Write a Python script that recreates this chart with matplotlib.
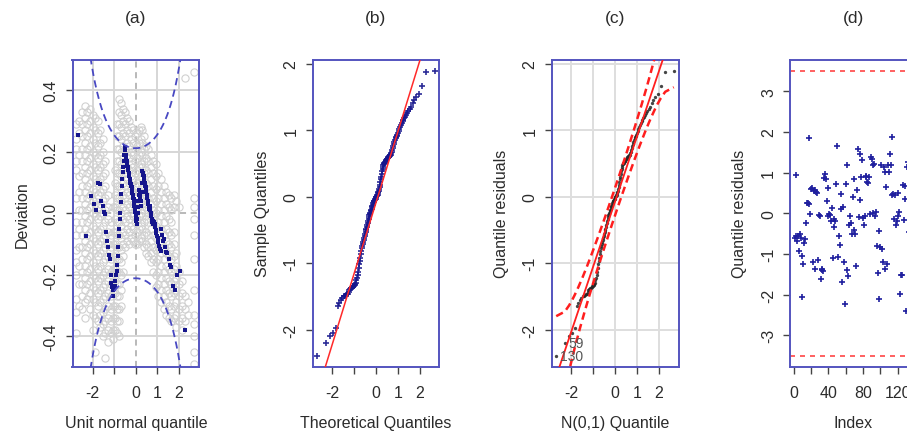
import math
from statistics import NormalDist

import matplotlib
matplotlib.use("Agg")
import matplotlib.pyplot as plt
import numpy as np

plt.rcParams["font.family"] = ["Liberation Sans", "DejaVu Sans"]
plt.rcParams["axes.unicode_minus"] = False

# (a) worm plot: deviation of each ordered residual from its normal quantile
worm_dev = [
    0.256, -0.074, 0.057, 0.03, 0.012, 0.10, 0.095, 0.04, 0.025, 0.005,
    -0.003, -0.06, -0.09, -0.11, -0.135, -0.15, -0.20, -0.226, -0.24, -0.25,
    -0.27, -0.245, -0.235, -0.22, -0.20, -0.188, -0.167, -0.14, -0.109, -0.074,
    -0.05, -0.02, 0.0, 0.036, 0.062, 0.09, 0.11, 0.133, 0.15, 0.17,
    0.19, 0.215, 0.205, 0.19, 0.18, 0.17, 0.165, 0.155, 0.15, 0.14,
    0.13, 0.125, 0.12, 0.11, 0.10, 0.095, 0.09, 0.085, 0.075, 0.065,
    0.06, 0.05, 0.045, 0.035, 0.025, 0.015, 0.005, -0.005, -0.015, -0.025,
    -0.036, -0.02, 0.0, 0.02, 0.04, 0.06, 0.075, 0.06, 0.065, 0.05,
    0.04, 0.024, 0.07, 0.10, 0.138, 0.13, 0.125, 0.12, 0.11, 0.10,
    0.09, 0.085, 0.075, 0.068, 0.06, 0.05, 0.04, 0.03, 0.024, 0.015,
    0.024, 0.01, 0.0, -0.01, -0.02, -0.03, -0.036, -0.025, -0.03, -0.036,
    -0.045, -0.055, -0.063, -0.075, -0.08, -0.095, -0.105, -0.115, -0.123, -0.052,
    -0.07, -0.09, -0.085, -0.11, -0.125, -0.13, -0.15, -0.167, -0.175, -0.237,
    -0.248, -0.20, -0.188, -0.379, -0.62,
]

# (a) grey background worms, one list of deviations per x column
grey_cols = [
    -2.75, -2.62, -2.48, -2.36, -2.24, -2.12, -2.0, -1.88, -1.76, -1.64,
    -1.52, -1.40, -1.28, -1.16, -1.04, -0.94, -0.85, -0.76, -0.67, -0.58,
    -0.49, -0.40, -0.31, -0.22, -0.13, -0.04, 0.05, 0.14, 0.23, 0.32,
    0.41, 0.50, 0.60, 0.70, 0.82, 0.94, 1.06, 1.18, 1.30, 1.42,
    1.54, 1.66, 1.78, 1.90, 2.02, 2.14, 2.28, 2.42, 2.70,
]
grey_rows = [
    [0.29, 0.24, 0.21, 0.17, 0.14, 0.05, -0.03, -0.07, -0.12, -0.16, -0.2, -0.28, -0.32, -0.39],
    [0.30, 0.26, 0.19, 0.12, 0.07, 0.01, -0.05, -0.11, -0.17, -0.23, -0.3],
    [0.33, 0.29, 0.25, 0.21, 0.17, 0.13, 0.09, 0.05, 0.01, -0.03, -0.07, -0.11, -0.15, -0.19, -0.23, -0.27, -0.31],
    [0.35, 0.31, 0.27, 0.23, 0.19, 0.15, 0.11, 0.07, 0.03, -0.01, -0.05, -0.09, -0.13, -0.17, -0.21, -0.25, -0.29, -0.34],
    [0.33, 0.29, 0.25, 0.21, 0.17, 0.13, 0.09, 0.05, 0.01, -0.03, -0.07, -0.11, -0.15, -0.19, -0.23, -0.28],
    [0.34, 0.30, 0.26, 0.22, 0.18, 0.14, 0.10, 0.06, 0.02, -0.02, -0.06, -0.10, -0.14, -0.18, -0.22, -0.26, -0.31],
    [0.32, 0.28, 0.24, 0.20, 0.16, 0.12, 0.08, 0.04, 0.0, -0.04, -0.08, -0.12, -0.16, -0.20, -0.24, -0.28, -0.33, -0.38],
    [0.31, 0.27, 0.23, 0.19, 0.15, 0.11, 0.07, 0.03, -0.01, -0.05, -0.09, -0.13, -0.17, -0.21, -0.25, -0.29, -0.34, -0.45],
    [0.30, 0.26, 0.22, 0.18, 0.14, 0.10, 0.06, 0.02, -0.02, -0.06, -0.10, -0.14, -0.18, -0.22, -0.26, -0.30, -0.35],
    [0.27, 0.23, 0.19, 0.15, 0.11, 0.07, 0.03, -0.01, -0.05, -0.09, -0.13, -0.17, -0.21, -0.25, -0.29, -0.33, -0.37],
    [0.24, 0.20, 0.16, 0.12, 0.08, 0.04, 0.0, -0.04, -0.08, -0.12, -0.16, -0.20, -0.24, -0.28, -0.32, -0.36, -0.40],
    [0.17, 0.13, 0.09, 0.05, 0.01, -0.03, -0.07, -0.11, -0.15, -0.19, -0.23, -0.27, -0.31, -0.35, -0.39, -0.47],
    [0.06, 0.02, -0.02, -0.06, -0.10, -0.14, -0.18, -0.22, -0.26, -0.30, -0.34, -0.38, -0.42],
    [-0.03, -0.07, -0.11, -0.15, -0.19, -0.23, -0.27, -0.31, -0.35, -0.39],
    [0.02, -0.06, -0.10, -0.14, -0.18, -0.22, -0.26, -0.30, -0.34, -0.38, -0.41],
    [0.14, 0.10, 0.06, 0.02, -0.02, -0.06, -0.10, -0.14, -0.18, -0.22, -0.26, -0.30, -0.34, -0.38],
    [0.29, 0.25, 0.21, 0.17, 0.13, 0.09, 0.05, 0.01, -0.03, -0.07, -0.11, -0.15, -0.19, -0.23, -0.27, -0.31, -0.35, -0.39],
    [0.37, 0.33, 0.29, 0.25, 0.21, 0.17, 0.13, 0.09, 0.05, 0.01, -0.03, -0.07, -0.11, -0.15, -0.19, -0.23, -0.27, -0.31, -0.35, -0.40],
    [0.36, 0.32, 0.28, 0.24, 0.20, 0.16, 0.12, 0.08, 0.04, 0.0, -0.04, -0.08, -0.12, -0.16, -0.20, -0.25, -0.30],
    [0.34, 0.30, 0.26, 0.22, 0.18, 0.14, 0.10, 0.06, 0.02, -0.02, -0.06, -0.10, -0.14, -0.19],
    [0.33, 0.29, 0.25, 0.21, 0.17, 0.13, 0.09, 0.05, 0.01, -0.03, -0.07, -0.11],
    [0.31, 0.27, 0.23, 0.19, 0.15, 0.11, 0.07, 0.03, -0.01, -0.05, -0.09],
    [0.30, 0.26, 0.22, 0.18, 0.14, 0.10, 0.06, 0.02, -0.02, -0.06, -0.10],
    [0.28, 0.24, 0.20, 0.16, 0.12, 0.08, 0.04, 0.0, -0.04, -0.08],
    [0.27, 0.23, 0.19, 0.15, 0.11, 0.07, 0.03, -0.01, -0.05, -0.09],
    [0.25, 0.21, 0.17, 0.13, 0.09, 0.05, 0.01, -0.03, -0.07, -0.10],
    [0.26, 0.22, 0.18, 0.14, 0.10, 0.06, 0.02, -0.02, -0.06, -0.10],
    [0.27, 0.23, 0.19, 0.15, 0.11, 0.07, 0.03, -0.01, -0.05, -0.09],
    [0.28, 0.24, 0.20, 0.16, 0.12, 0.08, 0.04, 0.0, -0.04, -0.08],
    [0.27, 0.23, 0.19, 0.15, 0.11, 0.07, 0.03, -0.01, -0.05, -0.09],
    [0.25, 0.21, 0.17, 0.13, 0.09, 0.05, 0.01, -0.03, -0.07, -0.11],
    [0.22, 0.18, 0.14, 0.10, 0.06, 0.02, -0.02, -0.06, -0.10, -0.13],
    [0.21, 0.17, 0.13, 0.09, 0.05, 0.01, -0.03, -0.07, -0.11, -0.14],
    [0.19, 0.15, 0.11, 0.07, 0.03, -0.01, -0.05, -0.09, -0.13, -0.16],
    [0.17, 0.13, 0.09, 0.05, 0.01, -0.03, -0.07, -0.11, -0.15, -0.19],
    [0.16, 0.12, 0.08, 0.04, 0.0, -0.04, -0.08, -0.12, -0.16, -0.20, -0.24],
    [0.13, 0.09, 0.05, 0.01, -0.03, -0.07, -0.11, -0.15, -0.19, -0.23, -0.27],
    [0.11, 0.07, 0.03, -0.01, -0.05, -0.09, -0.13, -0.17, -0.21, -0.25, -0.29],
    [0.09, 0.05, 0.01, -0.03, -0.07, -0.11, -0.15, -0.19, -0.23, -0.27, -0.31],
    [0.07, 0.03, -0.01, -0.05, -0.09, -0.13, -0.17, -0.21, -0.25, -0.29, -0.33],
    [0.06, 0.02, -0.02, -0.06, -0.10, -0.14, -0.18, -0.22, -0.26, -0.30, -0.34],
    [0.05, 0.01, -0.03, -0.07, -0.11, -0.15, -0.19, -0.23, -0.27, -0.31, -0.35],
    [0.06, 0.02, -0.06, -0.10, -0.14, -0.18, -0.22, -0.26, -0.30, -0.34],
    [0.04, -0.13, -0.17, -0.21, -0.25, -0.29, -0.33, -0.37],
    [0.02, -0.19, -0.23, -0.27, -0.31, -0.35],
    [-0.22, -0.26, -0.30, -0.34, -0.38],
    [0.44, -0.27, -0.31, -0.35],
    [-0.29, -0.33],
    [0.46, 0.05, 0.02, -0.02, -0.07, -0.15, -0.25, -0.33, -0.36, -0.40, -0.45, -0.49],
]

# (b), (c) ordered quantile residuals
qq_sample = [
    -2.39, -2.20, -2.10, -2.05, -1.97, -1.64, -1.60, -1.56, -1.52, -1.50,
    -1.49, -1.48, -1.47, -1.46, -1.44, -1.41, -1.39, -1.38, -1.37, -1.36,
    -1.35, -1.34, -1.33, -1.32, -1.30, -1.26, -1.22, -1.18, -1.13, -1.07,
    -1.02, -0.97, -0.92, -0.86, -0.81, -0.77, -0.74, -0.71, -0.68, -0.65,
    -0.62, -0.59, -0.56, -0.53, -0.50, -0.48, -0.46, -0.43, -0.40, -0.37,
    -0.34, -0.31, -0.28, -0.26, -0.24, -0.22, -0.20, -0.18, -0.16, -0.14,
    -0.12, -0.10, -0.08, -0.07, -0.06, -0.05, -0.04, -0.03, -0.01, 0.00,
    0.01, 0.02, 0.03, 0.05, 0.07, 0.09, 0.11, 0.14, 0.18, 0.22,
    0.26, 0.30, 0.34, 0.38, 0.42, 0.45, 0.47, 0.49, 0.50, 0.51,
    0.52, 0.53, 0.54, 0.55, 0.56, 0.57, 0.58, 0.59, 0.60, 0.61,
    0.615, 0.62, 0.63, 0.65, 0.67, 0.70, 0.73, 0.76, 0.79, 0.82,
    0.85, 0.88, 0.89, 0.91, 0.93, 0.96, 0.98, 1.01, 1.04, 1.08,
    1.11, 1.13, 1.15, 1.18, 1.20, 1.23, 1.26, 1.29, 1.31, 1.34,
    1.40, 1.45, 1.50, 1.55, 1.67, 1.88, 1.89,
]

# (d) quantile residuals in observation order (index 1..137)
resid_index = [
    -0.60, -0.57, 0.93, -0.67, -0.55, -0.92, -0.51, -0.62, -1.05, -2.07,
    -1.25, -0.74, -0.63, -0.24, 0.24, 0.26, 0.22, 1.86, -0.02, 0.60,
    0.62, -1.21, 0.54, -1.37, 0.56, 0.53, 0.50, -1.14, -0.05, -0.07,
    -1.62, -1.37, -1.40, -1.42, 0.87, 0.97, 0.85, 0.30, 0.62, -0.06,
    -0.02, -0.04, -0.18, 0.14, -1.10, -0.14, -0.34, -0.20, 0.72, 1.65,
    -1.07, -0.55, -0.78, 0.48, 0.10, -1.68, 0.15, -1.21, -2.23, 0.72,
    1.19, -1.39, -1.54, -0.30, -0.06, -0.25, -0.51, 0.40, 0.85, -0.40,
    -0.51, -1.29, 0.56, 1.59, -0.10, 0.33, 1.46, 0.90, 1.30, -0.12,
    -0.30, -0.06, 0.89, 0.92, 0.77, 0.75, 0.89, -0.03, 1.38, 1.34,
    1.18, 0.00, 1.20, -0.06, 0.02, -0.80, -1.47, -2.12, -0.43, -0.84,
    1.18, -0.88, -1.20, 1.14, -1.37, 1.01, 0.64, -1.25, 1.18, 1.01,
    1.46, 1.18, 0.46, 1.88, 0.48, -0.14, 0.45, -0.29, -0.18, -0.06,
    0.50, 0.025, -1.99, -1.53, -1.52, 0.70, -0.16, 0.68, 0.36, -2.40,
    1.14, 1.27, -0.45, 0.58, -0.95, 0.12, 1.52,
]
resid_limit = 3.5

panel_titles = ["(a)", "(b)", "(c)", "(d)"]

SPINE = "#5454bf"
TEXT = "#2b2b2b"
NAVY = "#15158c"
ND = NormalDist()


def ppoints(n):
    return np.array([(i - 0.5) / n for i in range(1, n + 1)])


def norm_pdf(z):
    return np.exp(-0.5 * z ** 2) / math.sqrt(2 * math.pi)


def pad_range(v, frac=0.04):
    lo, hi = min(v), max(v)
    d = (hi - lo) * frac
    return lo - d, hi + d


def style(ax, xticks, xlabels, yticks, ylabels, xlabel, ylabel, title):
    for s in ax.spines.values():
        s.set_color(SPINE)
        s.set_linewidth(1.4)
    ax.set_xticks(xticks, xlabels)
    ax.set_yticks(yticks, ylabels)
    for lab in ax.get_yticklabels():
        lab.set_rotation(90)
        lab.set_va("center")
    ax.tick_params(direction="out", length=5, width=1, color="#444444",
                   labelcolor=TEXT, labelsize=11.5)
    ax.tick_params(axis="x", pad=8)
    ax.tick_params(axis="y", pad=5)
    ax.set_xlabel(xlabel, fontsize=11.5, color=TEXT, labelpad=11)
    ax.set_ylabel(ylabel, fontsize=11.5, color=TEXT, labelpad=10)
    ax.text(0.5, 1.138, title, transform=ax.transAxes, ha="center",
            va="center", fontsize=12.5, color=TEXT)


fig = plt.figure(figsize=(9.07, 4.39), dpi=100)
W, H = 907, 439
lefts = [72.5, 312.5, 551.5, 790.0]
axes = [fig.add_axes([l / W, 71 / H, 127 / W, 307.5 / H]) for l in lefts]

# ---- (a) worm plot
ax = axes[0]
xa = (-2.93, 2.97)
for v in [-2, -1, 1, 2]:
    ax.axvline(v, color="#d6d6d6", lw=1.4, zorder=0)
for v in [-0.4, -0.2, 0.2, 0.4]:
    ax.axhline(v, color="#d6d6d6", lw=1.4, zorder=0)
ax.axvline(0, color="#a6a6a6", lw=1.1, ls=(0, (4, 3)), zorder=0)
ax.axhline(0, color="#a6a6a6", lw=1.1, ls=(0, (4, 3)), zorder=0)
gx = [x for x, ys in zip(grey_cols, grey_rows) for _ in ys]
gy = [y for ys in grey_rows for y in ys]
ax.plot(gx, gy, "o", ms=5.2, mfc="none", mec="#d0d0d0", mew=0.8, zorder=1)
nw = len(worm_dev)
zw = np.array([ND.inv_cdf(p) for p in ppoints(nw)])
ax.plot(zw, worm_dev, "s", ms=2.2, color=NAVY, mew=0, zorder=3)
zz = np.linspace(xa[0], xa[1], 300)
pp = np.array([ND.cdf(z) for z in zz])
band = 1.96 * np.sqrt(pp * (1 - pp) / nw) / norm_pdf(zz)
ax.plot(zz, band, color="#4848c2", lw=1.3, ls=(0, (4, 2.5)), zorder=4)
ax.plot(zz, -band, color="#4848c2", lw=1.3, ls=(0, (4, 2.5)), zorder=4)
ax.set_xlim(xa)
ax.set_ylim(-0.5, 0.5)
style(ax, [-2, -1, 0, 1, 2], ["-2", "", "0", "1", "2"],
      [-0.4, -0.2, 0, 0.2, 0.4], ["-0.4", "-0.2", "0.0", "0.2", "0.4"],
      "Unit normal quantile", "Deviation", panel_titles[0])

# ---- shared Q-Q quantities for (b) and (c)
n = len(qq_sample)
pq = ppoints(n)
zq = np.array([ND.inv_cdf(p) for p in pq])
sq = np.array(qq_sample)
q1, q3 = np.quantile(sq, [0.25, 0.75])
slope_b = (q3 - q1) / (ND.inv_cdf(0.75) - ND.inv_cdf(0.25))
icpt_b = q1 - slope_b * ND.inv_cdf(0.25)

# ---- (b) normal Q-Q plot
ax = axes[1]
ax.plot(zq, sq, "+", ms=4.5, mew=1.2, color=NAVY, alpha=0.9, zorder=2)
ax.axline((0, icpt_b), slope=slope_b, color="#ff2a2a", lw=1.1, zorder=3)
ax.set_xlim(pad_range(zq))
ax.set_ylim(pad_range(sq))
style(ax, [-2, -1, 0, 1, 2], ["-2", "", "0", "1", "2"],
      [-2, -1, 0, 1, 2], ["-2", "-1", "0", "1", "2"],
      "Theoretical Quantiles", "Sample Quantiles", panel_titles[1])

# ---- (c) Q-Q plot with pointwise envelope
ax = axes[2]
for v in [-2, -1, 0, 1, 2]:
    ax.axvline(v, color="#dedede", lw=1.4, zorder=0)
    ax.axhline(v, color="#dedede", lw=1.4, zorder=0)
slope_c, icpt_c = np.polyfit(zq, sq, 1)
fit = icpt_c + slope_c * zq
se = slope_c / norm_pdf(zq) * np.sqrt(pq * (1 - pq) / n)
ax.plot(zq, sq, "o", ms=2.4, color="#262626", mew=0, alpha=0.85, zorder=2)
ax.axline((0, icpt_c), slope=slope_c, color="#ff1e1e", lw=1.3, zorder=3)
ax.plot(zq, fit + 1.96 * se, color="#ff1e1e", lw=1.8, ls=(0, (3, 1.8)), zorder=3)
ax.plot(zq, fit - 1.96 * se, color="#ff1e1e", lw=1.8, ls=(0, (3, 1.8)), zorder=3)
order = np.argsort(resid_index)
for k in range(2):
    ax.annotate(str(order[k] + 1), (zq[k], sq[k]), xytext=(2.5, 0),
                textcoords="offset points", ha="left", va="center",
                fontsize=10, color="#555555", zorder=4)
ax.set_xlim(pad_range(zq))
ax.set_ylim(pad_range(sq))
style(ax, [-2, -1, 0, 1, 2], ["-2", "", "0", "1", "2"],
      [-2, -1, 0, 1, 2], ["-2", "-1", "0", "1", "2"],
      "N(0,1) Quantile", "Quantile residuals", panel_titles[2])

# ---- (d) residuals against index
ax = axes[3]
idx = np.arange(1, len(resid_index) + 1)
ax.plot(idx, resid_index, "+", ms=5, mew=1.2, color="#1f1f9e", zorder=2)
ax.axhline(resid_limit, color="#ff4646", lw=1.2, ls=(0, (3, 3)))
ax.axhline(-resid_limit, color="#ff4646", lw=1.2, ls=(0, (3, 3)))
ax.set_xlim(pad_range(idx))
ax.set_ylim(pad_range([-resid_limit, resid_limit]))
xt = list(range(0, 160, 20))
style(ax, xt, [str(v) if v % 40 == 0 else "" for v in xt],
      [-3, -2, -1, 0, 1, 2, 3], ["-3", "-2", "-1", "0", "1", "2", "3"],
      "Index", "Quantile residuals", panel_titles[3])

fig.savefig("out.png", dpi=100)
